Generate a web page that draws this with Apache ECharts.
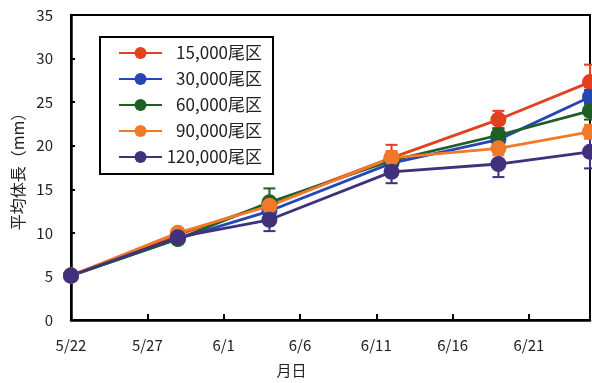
<!DOCTYPE html>
<html>
<head>
<meta charset="utf-8">
<script src="https://cdn.jsdelivr.net/npm/echarts@6/dist/echarts.min.js"></script>
<style>
html,body{margin:0;padding:0;background:#fff;}
#c{width:592px;height:383px;}
</style>
</head>
<body>
<div id="c"></div>
<script>
// ---- data ----
const dates = ['5/22', '5/29', '6/4', '6/12', '6/19', '6/25'];
const seriesNames = ['15,000尾区', '30,000尾区', '60,000尾区', '90,000尾区', '120,000尾区'];
const red15000    = [5.1, 9.8, 13.3, 18.6, 23.0, 27.3];
const blue30000   = [5.1, 9.3, 12.5, 18.0, 20.7, 25.6];
const green60000  = [5.1, 9.3, 13.5, 18.3, 21.2, 24.0];
const orange90000 = [5.1, 10.0, 13.1, 18.6, 19.7, 21.6];
const purple120000 = [5.1, 9.5, 11.5, 17.0, 17.9, 19.3];
const err15000  = [0, 0.3, 0.6, 1.5, 1.0, 2.0];
const err30000  = [0, 0.3, 0.6, 0.8, 0.8, 0.8];
const err60000  = [0, 0.3, 1.6, 0.8, 0.8, 1.0];
const err90000  = [0, 0.3, 0.6, 0.8, 0.8, 0.8];
const err120000 = [0, 0.3, 1.3, 1.3, 1.5, 1.9];
const xTickLabels = ['5/22', '5/27', '6/1', '6/6', '6/11', '6/16', '6/21'];
const yTicks = [0, 5, 10, 15, 20, 25, 30, 35];

// ---- helpers ----
function dayOffset(s) {
  const [m, d] = s.split('/').map(Number);
  return m === 5 ? d - 22 : d + 9;
}
const xs = dates.map(dayOffset);
const values = [red15000, blue30000, green60000, orange90000, purple120000];
const errs = [err15000, err30000, err60000, err90000, err120000];
const colors = ['#e2401e', '#2646b4', '#1f5e26', '#f07a2a', '#41307c'];
const FONT = '"Noto Sans CJK JP", "Noto Sans", sans-serif';

const series = [];
values.forEach((vals, i) => {
  series.push({
    name: 'err' + i,
    type: 'custom',
    z: 1,
    silent: true,
    data: xs.map((x, j) => [x, vals[j], errs[i][j]]),
    renderItem: function (params, api) {
      const x = api.value(0), v = api.value(1), e = api.value(2);
      if (!e) return null;
      const top = api.coord([x, v + e]);
      const bot = api.coord([x, v - e]);
      const hw = 6;
      const st = { stroke: colors[i], lineWidth: 2 };
      return {
        type: 'group',
        children: [
          { type: 'line', shape: { x1: top[0], y1: top[1], x2: bot[0], y2: bot[1] }, style: st },
          { type: 'line', shape: { x1: top[0] - hw, y1: top[1], x2: top[0] + hw, y2: top[1] }, style: st },
          { type: 'line', shape: { x1: bot[0] - hw, y1: bot[1], x2: bot[0] + hw, y2: bot[1] }, style: st }
        ]
      };
    }
  });
});
values.forEach((vals, i) => {
  series.push({
    name: seriesNames[i],
    type: 'line',
    z: 3,
    data: xs.map((x, j) => [x, vals[j]]),
    symbol: 'circle',
    symbolSize: 16,
    clip: false,
    itemStyle: { color: colors[i] },
    lineStyle: { color: colors[i], width: 2.8 }
  });
});

const chart = echarts.init(document.getElementById('c'), null, { renderer: 'canvas' });
chart.setOption({
  animation: false,
  backgroundColor: '#ffffff',
  textStyle: { fontFamily: FONT },
  grid: { left: 71, right: 2, top: 15, bottom: 63, show: true, borderColor: '#000', borderWidth: 2 },
  legend: {
    data: seriesNames,
    orient: 'vertical',
    left: 100,
    top: 37,
    padding: [7, 11, 8, 18],
    itemGap: 8,
    itemWidth: 43,
    itemHeight: 15,
    borderColor: '#000',
    borderWidth: 2,
    formatter: n => '{a|' + n + '}',
    textStyle: {
      color: '#222',
      rich: { a: { width: 95, height: 18, lineHeight: 18, align: 'right', fontSize: 17, fontFamily: FONT, color: '#222' } }
    }
  },
  xAxis: {
    type: 'value',
    min: 0,
    max: xs[xs.length - 1],
    interval: 5,
    name: '月日',
    nameLocation: 'middle',
    nameGap: 43,
    nameTextStyle: { fontSize: 15, color: '#222', padding: [0, 78, 0, 0], fontFamily: FONT },
    axisLine: { lineStyle: { color: '#000', width: 2.5 } },
    axisTick: { inside: true, length: 6, lineStyle: { color: '#000', width: 2 } },
    splitLine: { show: false },
    axisLabel: {
      showMaxLabel: false,
      margin: 18,
      fontSize: 15,
      color: '#222',
      fontFamily: FONT,
      formatter: v => {
        const idx = Math.round(v / 5);
        return (v % 5 === 0 && xTickLabels[idx]) ? xTickLabels[idx] : '';
      }
    }
  },
  yAxis: {
    type: 'value',
    min: yTicks[0],
    max: yTicks[yTicks.length - 1],
    interval: 5,
    name: '平均体長（mm）',
    nameLocation: 'middle',
    nameGap: 44,
    nameTextStyle: { fontSize: 16, color: '#222', fontFamily: FONT },
    axisLine: { show: true, lineStyle: { color: '#000', width: 2.5 } },
    axisTick: { show: true, inside: true, length: 4, lineStyle: { color: '#000', width: 2 } },
    splitLine: { show: false },
    axisLabel: { margin: 18, fontSize: 15, color: '#222', fontFamily: FONT }
  },
  series: series
});
</script>
</body>
</html>
